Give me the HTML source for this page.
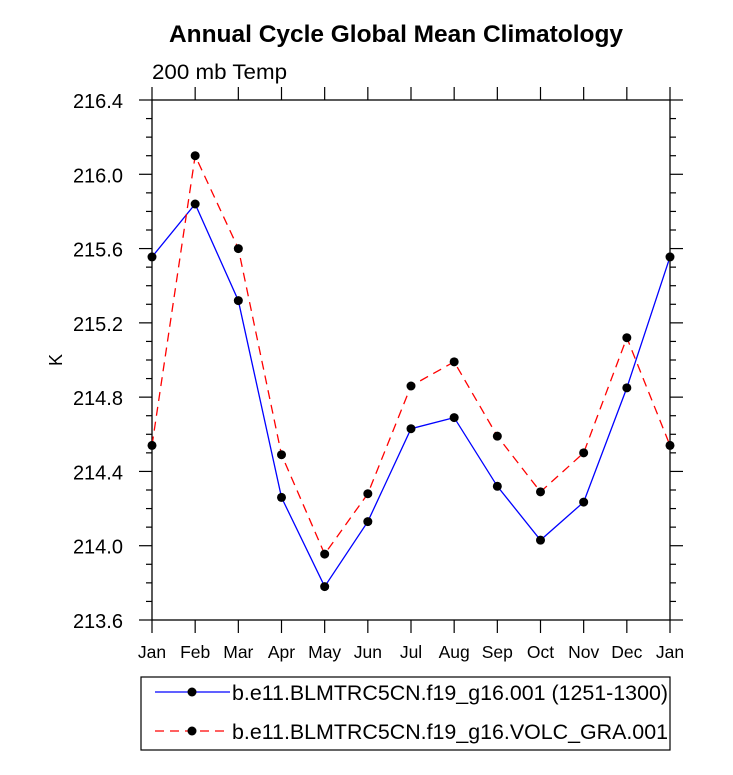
<!DOCTYPE html>
<html><head><meta charset="utf-8"><style>
body{margin:0;background:#fff;font-family:"Liberation Sans",sans-serif}
</style></head><body>
<svg width="733" height="770" xmlns="http://www.w3.org/2000/svg" font-family="Liberation Sans, sans-serif">
<text x="169" y="42" font-size="24" font-weight="bold" textLength="454" lengthAdjust="spacingAndGlyphs">Annual Cycle Global Mean Climatology</text>
<text x="152" y="79" font-size="21" textLength="135" lengthAdjust="spacingAndGlyphs">200 mb Temp</text>
<text x="62" y="360" font-size="18" text-anchor="middle" transform="rotate(-90 62 360)">K</text>
<g id="axes"></g>
<g id="series"></g>
<rect x="141" y="677" width="529" height="73" fill="none" stroke="#000" stroke-width="1.2"/>
<g>
<line x1="155" y1="692" x2="230" y2="692" stroke="#00f" stroke-width="1.3"/>
<circle cx="192" cy="692" r="4.5"/>
<text x="232" y="700" font-size="21" textLength="436" lengthAdjust="spacingAndGlyphs">b.e11.BLMTRC5CN.f19_g16.001 (1251-1300)</text>
</g>
<g>
<line x1="155" y1="731" x2="230" y2="731" stroke="#f00" stroke-width="1.3" stroke-dasharray="9,6"/>
<circle cx="192" cy="731" r="4.5"/>
<text x="232" y="739" font-size="21" textLength="436" lengthAdjust="spacingAndGlyphs">b.e11.BLMTRC5CN.f19_g16.VOLC_GRA.001</text>
</g>
</svg>
<script>
const months=["Jan","Feb","Mar","Apr","May","Jun","Jul","Aug","Sep","Oct","Nov","Dec","Jan"];
const controlVals=[215.555,215.84,215.32,214.26,213.78,214.13,214.63,214.69,214.32,214.03,214.235,214.85,215.555];
const volcVals=[214.54,216.10,215.60,214.49,213.955,214.28,214.86,214.99,214.59,214.29,214.50,215.12,214.54];
const yTicks=[213.6,214.0,214.4,214.8,215.2,215.6,216.0,216.4];
const NS="http://www.w3.org/2000/svg";
const L=152,R=670,T=100,B=620,ymin=213.6,ymax=216.4;
const xs=i=>L+(R-L)*i/(months.length-1);
const ys=v=>B-(v-ymin)/(ymax-ymin)*(B-T);
function mk(t,a,p){const e=document.createElementNS(NS,t);for(const k in a)e.setAttribute(k,a[k]);p.appendChild(e);return e;}
const ax=document.getElementById('axes');
const frame=mk('rect',{x:L,y:T,width:R-L,height:B-T,fill:'none',stroke:'#000','stroke-width':1.3},ax);


for(let k=0;k<=28;k++){
  const y=ys(ymin+k*0.1);const maj=k%4===0;
  const len=maj?13:6;
  mk('line',{x1:L-len,y1:y,x2:L,y2:y,stroke:'#000','stroke-width':1.2},ax);
  mk('line',{x1:R,y1:y,x2:R+len,y2:y,stroke:'#000','stroke-width':1.2},ax);
}
yTicks.forEach(v=>{
  const t=mk('text',{x:123,y:ys(v)+8,'font-size':20,'text-anchor':'end'},ax);
  t.textContent=v.toFixed(1);
  
  
});
months.forEach((m,i)=>{
  const x=xs(i);
  mk('line',{x1:x,y1:B,x2:x,y2:B+13,stroke:'#000','stroke-width':1.2},ax);
  mk('line',{x1:x,y1:T-13,x2:x,y2:T,stroke:'#000','stroke-width':1.2},ax);
  const t=mk('text',{x:x,y:B+38,'font-size':17.5,'text-anchor':'middle'},ax);
  t.textContent=m;
  
  
});
const sg=document.getElementById('series');
function series(vals,color,dash,name){
  const g=mk('g',{},sg);
  
  
  const pts=vals.map((v,i)=>xs(i)+','+ys(v)).join(' ');
  const a={points:pts,fill:'none',stroke:color,'stroke-width':1.3};
  if(dash)a['stroke-dasharray']=dash;
  mk('polyline',a,g);
  vals.forEach((v,i)=>{
    const c=mk('circle',{cx:xs(i),cy:ys(v),r:4.5,fill:'#000'},g);
    
    
  });
}
series(controlVals,'#00f',null,'series-control');
series(volcVals,'#f00','9,6','series-volc');
</script>
</body></html>
